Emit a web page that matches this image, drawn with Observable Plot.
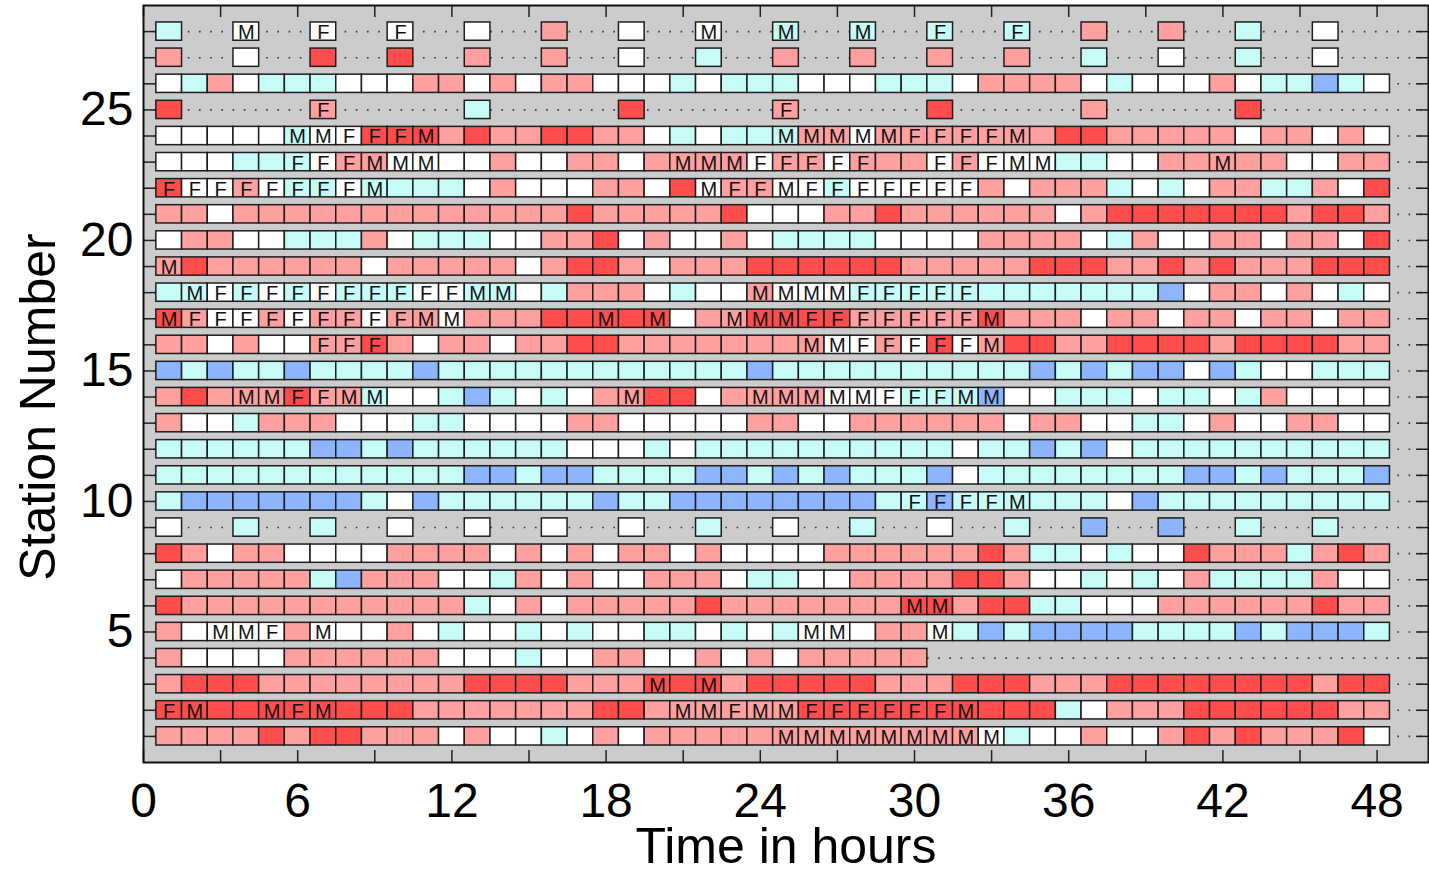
<!DOCTYPE html>
<html>
<head>
<meta charset="utf-8">
<script src="https://cdn.jsdelivr.net/npm/d3@7"></script>
<script src="https://cdn.jsdelivr.net/npm/@observablehq/plot@0.6"></script>
<style>
  html, body { margin: 0; padding: 0; background: #ffffff; }
  #chart svg { display: block; }
</style>
</head>
<body>
<div id="chart"></div>
<script>
// ---- x positions (hour of each observation) ----
const hoursHourly = [1,2,3,4,5,6,7,8,9,10,11,12,13,14,15,16,17,18,19,20,21,22,23,24,25,26,27,28,29,30,31,32,33,34,35,36,37,38,39,40,41,42,43,44,45,46,47,48];
const hours3h = [1,4,7,10,13,16,19,22,25,28,31,34,37,40,43,46];
const hours6h = [1,7,13,19,25,31,37,43];
const hoursSt4 = [1,2,3,4,5,6,7,8,9,10,11,12,13,14,15,16,17,18,19,20,21,22,23,24,25,26,27,28,29,30];

// ---- cell codes: colour class (B,C,W,P,R) + optional letter (M/F) ----
const st01 = "P P P P R P R R P P P W P W W C W P W P P P P P PM PM PM PM PM PM PM PM WM C W W P W W P R P R P P P R W".split(" ");
const st02 = "RF RM R R RM RF RM R R R P P P P P P P R R P PM PM PF PM PM RF RF RF RF RF RF RM R R R C W P P P R R R R R R P P".split(" ");
const st03 = "P R R R P P P P P P P P R R R R P P P RM R RM P R R R R R P P P R R R P P P R R R R R R R R P R R".split(" ");
const st04 = "P W W W W P P P P P P W W W C W W P P W W P W P W P P P P P".split(" ");
const st05 = "P W WM WM WF P WM W W P W C W W C W C W W C C W C W C WM WM W P P WM C B C B B B B C C C C B C B B B C".split(" ");
const st06 = "R P P P P P P P P P P P C W P W P P P P P R P P P P P P P RM RM P R R C C W W W P P P P P P R P P".split(" ");
const st07 = "W P P P P P C B P P P W W C P W P W W P P P W C C W W P P P P R R P W W C W C W P C C C C P W W".split(" ");
const st08 = "R P W P P W W W W P P P P W P W P W P P W P W W W W P P P P P P R P C C W C W W R P P P C P R P".split(" ");
const st09 = "W C C W W W W C W C W C B B C C".split(" ");
const st10 = "C B B B B B B B C W B C C C C C C B C C B B B B B B B B C CF BF CF CF CM C C C W B C C C C C C C C C".split(" ");
const st11 = "C C C C C C C C C C C C B B C B B C C C C B B C B C B C C C B W C C C C C C C C B B C B C C C B".split(" ");
const st12 = "C C C C C C B B C B C C C C C C W W W C W C C C C C C C C C C W C C B C B W C C C C C C C C C C".split(" ");
const st13 = "P W W C P P P W W W C C W W W W P P W W W W W P P W W P P P P P P W P P W W C C W P W W P P W W".split(" ");
const st14 = "P R P PM PM RF PF PM CM W W C B C W C W P PM R R W P PM PM PM WM WM WF CF CF CM BM W W C C C W C C W C P W W W W".split(" ");
const st15 = "B C B C C B C C C C B C C C C C C C C C C C C B C C C C C C C C C C B C B C B B W B C W W C C C".split(" ");
const st16 = "P P W P W W PF PF RF P W P P W P P R R P P P P P P P PM WM WF PF WF RF WF PM R R P P R R R R P R R R R P P".split(" ");
const st17 = "RM PF WF WF PF WF PF PF WF PF PM WM P P P R R RM R RM W P PM RM RM RF RF PF PF PF PF PF RM P P P W P P W P P W P P W P P".split(" ");
const st18 = "C CM WF CF WF CF WF CF CF CF WF WF CM CM W C P P P W C W W PM WM WM WM CF CF CF CF CF C C C C C C C B W P P W P W C W".split(" ");
const st19 = "PM R P P P P P P W P P P P P W P R R P W P P P R R R R R R P P P P P R R R P P R P R P P P R R R".split(" ");
const st20 = "W P P W W C C C P W C C C W W P P R W P W W P W C C C C W W W W P P P P W C P W W P P W P P W R".split(" ");
const st21 = "P P W P P P P P P P P P P P P P R P P P P P R W W W P P R P P P P P P W P R R R R R R R P R R P".split(" ");
const st22 = "RF WF WF PF WF CF CF WF CM C C C W P W W W P P W R WM PF PF WM WF CF WF WF WF WF WF P W P P P C W C W P P C C P W R".split(" ");
const st23 = "W W W C C CF WF PF PM WM WM W W P W W P P W P PM PM PM WF PF PF WF PF P P WF PF WF WM WM C C W W P P PM P P W W P P".split(" ");
const st24 = "W W W W W CM WM WF RF RF RM P R P P R R P P W C W C C CM PM PM WM PM PF PF PF PF PM P R R P P P P P W P P W P W".split(" ");
const st25 = "R PF C R PF R P R".split(" ");
const st26 = "W C P W C C C W W W P P W P W P P W W W C W C C C W W W C C C W P P P P W C W W W P W C C B C W".split(" ");
const st27 = "P W R R P P W C P P P P C W C W".split(" ");
const st28 = "C WM WF WF W P W WM CM CM CF CF P P C W".split(" ");

// ---- axes ----
const xTickLabels = [0, 6, 12, 18, 24, 30, 36, 42, 48];
const xTickMarks = [0, 3, 6, 9, 12, 15, 18, 21, 24, 27, 30, 33, 36, 39, 42, 45, 48];
const yTickLabels = [5, 10, 15, 20, 25];
const stationNumbers = [1,2,3,4,5,6,7,8,9,10,11,12,13,14,15,16,17,18,19,20,21,22,23,24,25,26,27,28];

const classCodes = ["B", "C", "W", "P", "R"];
const classColors = ["#8cb4ff", "#c6fbf8", "#ffffff", "#ffa0a0", "#ff4c4c"];

// ---- build table ----
const rows = [
  [1, st01, hoursHourly], [2, st02, hoursHourly], [3, st03, hoursHourly], [4, st04, hoursSt4],
  [5, st05, hoursHourly], [6, st06, hoursHourly], [7, st07, hoursHourly], [8, st08, hoursHourly],
  [9, st09, hours3h], [10, st10, hoursHourly], [11, st11, hoursHourly], [12, st12, hoursHourly],
  [13, st13, hoursHourly], [14, st14, hoursHourly], [15, st15, hoursHourly], [16, st16, hoursHourly],
  [17, st17, hoursHourly], [18, st18, hoursHourly], [19, st19, hoursHourly], [20, st20, hoursHourly],
  [21, st21, hoursHourly], [22, st22, hoursHourly], [23, st23, hoursHourly], [24, st24, hoursHourly],
  [25, st25, hours6h], [26, st26, hoursHourly], [27, st27, hours3h], [28, st28, hours3h]
];
const cells = [];
for (const [station, codes, hrs] of rows) {
  codes.forEach((code, i) => {
    cells.push({station, hour: hrs[i], level: code[0], mark: code.slice(1)});
  });
}

const W = 1429, H = 872;
const mL = 143, mR = 1, mT = 5, mB = 110;
const plotW = W - mL - mR, plotH = H - mT - mB;
const tickLen = 12;
const halfH = 0.35;

const chart = Plot.plot({
  width: W,
  height: H,
  marginLeft: mL,
  marginRight: mR,
  marginTop: mT,
  marginBottom: mB,
  x: {domain: [0, 50]},
  y: {domain: [0, 29]},
  color: {type: "ordinal", domain: classCodes, range: classColors},
  style: {fontFamily: "'Liberation Sans', Arial, Helvetica, sans-serif", background: "#ffffff", color: "#000"},
  marks: [
    Plot.frame({fill: "#cccccc", stroke: "none"}),
    Plot.ruleY(stationNumbers, {y: d => d, stroke: "#333", strokeWidth: 1.6, strokeDasharray: "1.6 9.6"}),
    Plot.rect(cells, {
      x1: d => d.hour - 0.5, x2: d => d.hour + 0.5,
      y1: d => d.station - halfH, y2: d => d.station + halfH,
      fill: "level", stroke: "#1e1e1e", strokeWidth: 1.5
    }),
    Plot.text(cells.filter(d => d.mark), {
      x: "hour", y: "station", text: "mark", fontSize: 20, fill: "#111", dy: 1
    }),
    Plot.ruleX(xTickMarks, {x: d => d, insetTop: plotH - tickLen, stroke: "#222", strokeWidth: 1.5}),
    Plot.ruleX(xTickMarks, {x: d => d, insetBottom: plotH - tickLen, stroke: "#222", strokeWidth: 1.5}),
    Plot.ruleY(stationNumbers, {y: d => d, insetRight: plotW - tickLen, stroke: "#222", strokeWidth: 1.5}),
    Plot.ruleY(stationNumbers, {y: d => d, insetLeft: plotW - tickLen, stroke: "#222", strokeWidth: 1.5}),
    Plot.axisX(xTickLabels, {tickSize: 0, tickPadding: 20, fontSize: 48, label: null, tickFormat: d => String(d)}),
    Plot.axisY(yTickLabels, {tickSize: 0, tickPadding: 10, fontSize: 48, label: null, tickFormat: d => String(d)}),
    Plot.text(["Time in hours"], {text: d => d, frameAnchor: "bottom", dy: 84, fontSize: 50, lineAnchor: "middle", textAnchor: "middle"}),
    Plot.text(["Station Number"], {text: d => d, frameAnchor: "left", dx: -105, dy: 23, rotate: -90, fontSize: 50, lineAnchor: "middle", textAnchor: "middle"}),
    Plot.frame({stroke: "#111", strokeWidth: 2})
  ]
});
document.getElementById("chart").appendChild(chart);
</script>
</body>
</html>
